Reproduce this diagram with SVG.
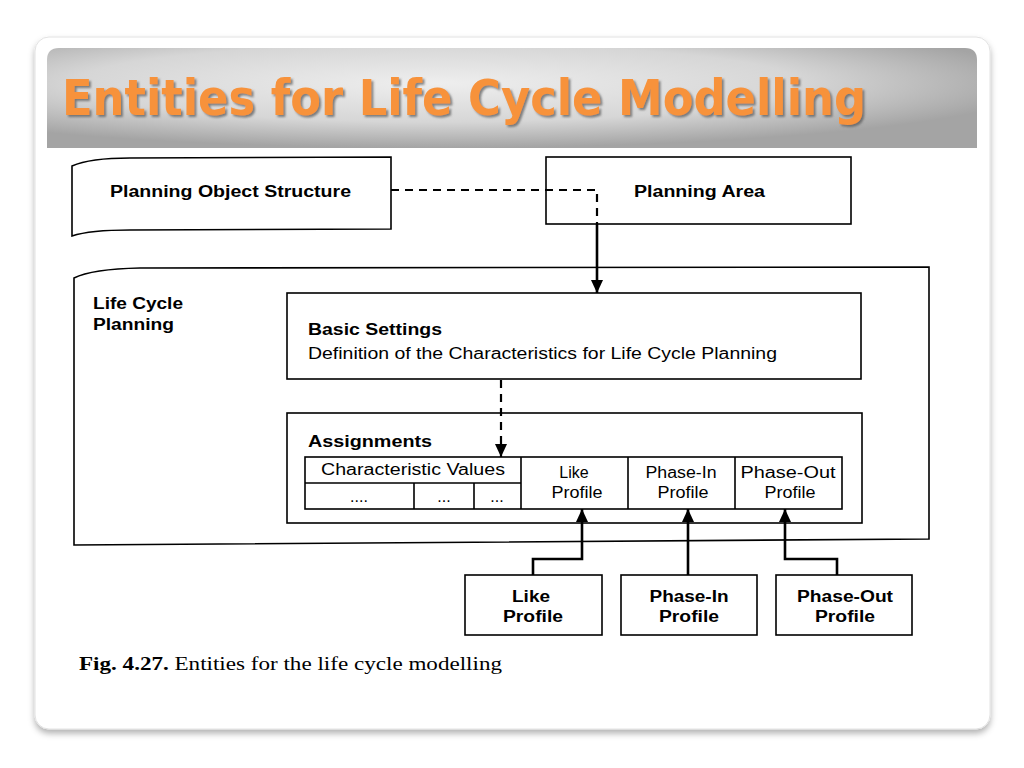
<svg xmlns="http://www.w3.org/2000/svg" width="1024" height="768" viewBox="0 0 1024 768">
<style>
.box{fill:#fff;stroke:#000;stroke-width:1.6}
.ln{fill:none;stroke:#000;stroke-width:1.6}
.b{font-family:"Liberation Sans",Arial,sans-serif;font-weight:bold;font-size:16px;fill:#000}
.r{font-family:"Liberation Sans",Arial,sans-serif;font-size:16px;fill:#000}
.c{text-anchor:middle}
.con{fill:none;stroke:#000;stroke-width:2.6}
.dash{fill:none;stroke:#000;stroke-width:2.2;stroke-dasharray:8 6}
.cap{font-family:"Liberation Serif","Times New Roman",serif;font-size:18px;fill:#000}
</style>
<defs>
<radialGradient id="hdr" cx="0.42" cy="0.35" r="0.65">
<stop offset="0" stop-color="#eeeeee"/>
<stop offset="0.6" stop-color="#d6d6d6"/>
<stop offset="1" stop-color="#a4a4a4"/>
</radialGradient>
<filter id="sh" x="-5%" y="-5%" width="110%" height="115%">
<feDropShadow dx="0" dy="4" stdDeviation="3" flood-color="#000" flood-opacity="0.3"/>
</filter>
<filter id="tsh" x="-5%" y="-20%" width="110%" height="140%">
<feDropShadow dx="2" dy="2" stdDeviation="1" flood-color="#555" flood-opacity="0.7"/>
</filter>
<marker id="arr" markerUnits="userSpaceOnUse" markerWidth="14" markerHeight="12" refX="13" refY="6" orient="auto">
<path d="M0,0 L13,6 L0,12 Z" fill="#000"/>
</marker>
</defs>
<rect width="1024" height="768" fill="#fff"/>
<g id="slide">
<rect x="35" y="37" width="955" height="692" rx="14" fill="#fff" stroke="#e2e2e2" stroke-width="1" filter="url(#sh)"/>
<path d="M47,60 Q47,48 59,48 L965,48 Q977,48 977,60 L977,148 L47,148 Z" fill="url(#hdr)"/>
<text x="62" y="115" font-family="'DejaVu Sans',Verdana,sans-serif" font-weight="bold" font-size="50" fill="#F7923A" textLength="804" lengthAdjust="spacingAndGlyphs" filter="url(#tsh)">Entities for Life Cycle Modelling</text>
</g>
<g id="life-cycle-planning">
<path class="box" d="M74,278 Q92,269 140,268 L929,267 L929,539 L74,545 Z"/>
<text class="b" x="93" y="309" textLength="90" lengthAdjust="spacingAndGlyphs">Life Cycle</text>
<text class="b" x="93" y="330" textLength="81" lengthAdjust="spacingAndGlyphs">Planning</text>
</g>
<g id="planning-object-structure">
<path class="box" d="M72,166 Q90,158 130,158 L391,157 L391,229 L130,230 Q90,230 72,236 Z"/>
<text class="b" x="110" y="197" textLength="241" lengthAdjust="spacingAndGlyphs">Planning Object Structure</text>
</g>
<g id="planning-area">
<rect class="box" x="546" y="157" width="305" height="67"/>
<text class="b" x="634" y="197" textLength="131" lengthAdjust="spacingAndGlyphs">Planning Area</text>
</g>
<g id="basic-settings">
<rect class="box" x="287" y="293" width="574" height="86"/>
<text class="b" x="308" y="335" textLength="134" lengthAdjust="spacingAndGlyphs">Basic Settings</text>
<text class="r" x="308" y="359" textLength="469" lengthAdjust="spacingAndGlyphs">Definition of the Characteristics for Life Cycle Planning</text>
</g>
<g id="assignments">
<rect class="box" x="287" y="413" width="575" height="110"/>
<text class="b" x="308" y="447" textLength="124" lengthAdjust="spacingAndGlyphs">Assignments</text>
<rect class="box" x="305" y="457" width="537" height="52"/>
<path class="ln" d="M305,483 H521 M414,483 V509 M474,483 V509 M521,457 V509 M628,457 V509 M735,457 V509"/>
<text class="r c" x="413" y="475" textLength="184" lengthAdjust="spacingAndGlyphs">Characteristic Values</text>
<text class="r c" x="359" y="502">....</text>
<text class="r c" x="444" y="502">...</text>
<text class="r c" x="497" y="502">...</text>
<text class="r c" x="574" y="478">Like</text>
<text class="r c" x="577" y="498" textLength="51" lengthAdjust="spacingAndGlyphs">Profile</text>
<text class="r c" x="681" y="478" textLength="71" lengthAdjust="spacingAndGlyphs">Phase-In</text>
<text class="r c" x="683" y="498" textLength="51" lengthAdjust="spacingAndGlyphs">Profile</text>
<text class="r c" x="788" y="478" textLength="95" lengthAdjust="spacingAndGlyphs">Phase-Out</text>
<text class="r c" x="790" y="498" textLength="51" lengthAdjust="spacingAndGlyphs">Profile</text>
</g>
<g id="like-profile">
<rect class="box" x="465" y="575" width="137" height="60"/>
<text class="b c" x="531" y="602" textLength="38" lengthAdjust="spacingAndGlyphs">Like</text>
<text class="b c" x="533" y="622" textLength="60" lengthAdjust="spacingAndGlyphs">Profile</text>
</g>
<g id="phase-in-profile">
<rect class="box" x="621" y="575" width="136" height="60"/>
<text class="b c" x="689" y="602" textLength="79" lengthAdjust="spacingAndGlyphs">Phase-In</text>
<text class="b c" x="689" y="622" textLength="60" lengthAdjust="spacingAndGlyphs">Profile</text>
</g>
<g id="phase-out-profile">
<rect class="box" x="776" y="575" width="136" height="60"/>
<text class="b c" x="845" y="602" textLength="96" lengthAdjust="spacingAndGlyphs">Phase-Out</text>
<text class="b c" x="845" y="622" textLength="60" lengthAdjust="spacingAndGlyphs">Profile</text>
</g>
<g id="connectors">
<path class="dash" d="M391,190 H597 V224"/>
<path class="con" d="M597,224 V293" marker-end="url(#arr)"/>
<path class="dash" d="M501,380 V457" marker-end="url(#arr)"/>
<path class="con" d="M533,575 V559 H582 V509" marker-end="url(#arr)"/>
<path class="con" d="M688,575 V509" marker-end="url(#arr)"/>
<path class="con" d="M837,575 V559 H785 V509" marker-end="url(#arr)"/>
</g>
<g id="caption">
<text class="cap" x="79" y="670" textLength="423" lengthAdjust="spacingAndGlyphs"><tspan font-weight="bold">Fig. 4.27.</tspan> Entities for the life cycle modelling</text>
</g>
</svg>
